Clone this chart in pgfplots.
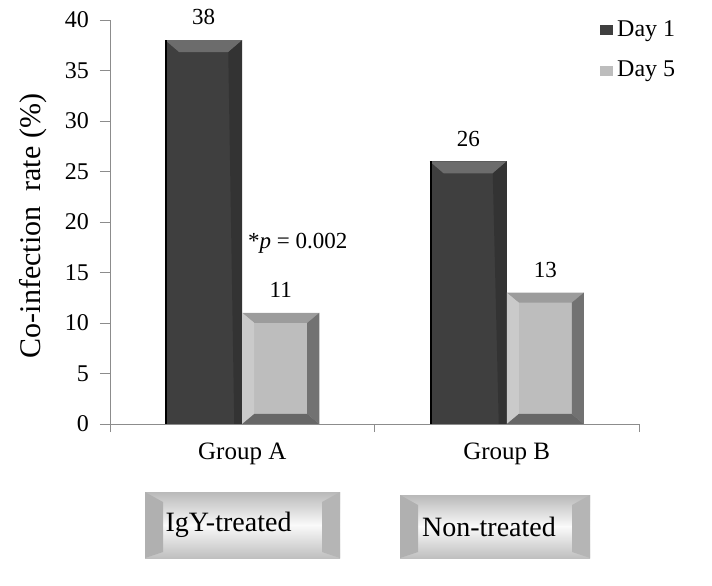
\documentclass[border=0pt]{standalone}
\usepackage{pgfplots}
\pgfplotsset{compat=1.18}
\usepackage{fontspec}
\setmainfont{Liberation Serif}

\definecolor{dk}{HTML}{3F3F3F}
\definecolor{dktop}{HTML}{6C6C6C}
\definecolor{dkside}{HTML}{333333}
\definecolor{lt}{HTML}{BDBDBD}
\definecolor{lttop}{HTML}{9C9C9C}
\definecolor{ltleft}{HTML}{CACACA}
\definecolor{ltdark}{HTML}{727272}
\definecolor{axgray}{HTML}{8C8C8C}

% bevelled bar faces, drawn inside each bar
\tikzset{
  nopp/.style={path picture={}},
  dkbevel/.style={path picture={
    \fill[nopp,dktop] (path picture bounding box.north west) -- (path picture bounding box.north east)
      -- ([xshift=-7bp,yshift=-6bp]path picture bounding box.north east)
      -- ([xshift=7bp,yshift=-6bp]path picture bounding box.north west) -- cycle;
    \fill[nopp,dkside] (path picture bounding box.north east)
      -- ([xshift=-7bp,yshift=-6bp]path picture bounding box.north east)
      -- ([xshift=-4bp]path picture bounding box.south east)
      -- (path picture bounding box.south east) -- cycle;
    \fill[nopp,black] (path picture bounding box.north west) rectangle ([xshift=1bp]path picture bounding box.south west);
  }},
  ltbevel/.style={path picture={
    \fill[nopp,lttop] (path picture bounding box.north west) -- (path picture bounding box.north east)
      -- ([xshift=-6bp,yshift=-5bp]path picture bounding box.north east)
      -- ([xshift=6bp,yshift=-5bp]path picture bounding box.north west) -- cycle;
    \fill[nopp,ltleft] (path picture bounding box.north west)
      -- ([xshift=6bp,yshift=-5bp]path picture bounding box.north west)
      -- ([xshift=6bp,yshift=5bp]path picture bounding box.south west)
      -- (path picture bounding box.south west) -- cycle;
    \fill[nopp,ltdark] (path picture bounding box.north east)
      -- ([xshift=-6bp,yshift=-5bp]path picture bounding box.north east)
      -- ([xshift=-6bp,yshift=5bp]path picture bounding box.south east)
      -- (path picture bounding box.south east) -- cycle;
    \fill[nopp,ltdark!90!black] (path picture bounding box.south west)
      -- ([xshift=6bp,yshift=5bp]path picture bounding box.south west)
      -- ([xshift=-6bp,yshift=5bp]path picture bounding box.south east)
      -- (path picture bounding box.south east) -- cycle;
  }},
  day1/.style={fill=dk, draw=none, dkbevel, bar shift=-19.25bp},
  day5/.style={fill=lt, draw=none, ltbevel, bar shift=19.25bp},
}

\newcommand\tagbox[6]{%
  \shade[nopp,top color=gray!55, bottom color=gray!4] (#1,{(#2+#4)/2}) rectangle (#3,#4);
  \shade[nopp,top color=gray!4, bottom color=gray!50] (#1,#2) rectangle (#3,{(#2+#4)/2});
  \fill[gray!62] (#1,#4) -- (#1+9bp,#4-5bp) -- (#1+9bp,#2+3bp) -- (#1,#2) -- cycle;
  \fill[gray!58] (#3,#4) -- (#3-9bp,#4-5bp) -- (#3-9bp,#2+3bp) -- (#3,#2) -- cycle;
  \node[font=\fontsize{14bp}{16bp}\selectfont] at ({(#1+#3)/2+#6},{(#2+#4)/2}) {#5};
}

\begin{document}
\begin{tikzpicture}
\useasboundingbox (-55bp,-81bp) rectangle (301bp,212bp);
\begin{axis}[
  at={(0,0)}, anchor=south west,
  scale only axis, width=264.5bp, height=202bp,
  xmin=-0.5, xmax=1.5, ymin=0, ymax=40,
  axis x line=bottom, axis y line=left,
  axis line style={-, axgray},
  xtick={0,1}, xticklabels={Group A, Group B},
  minor xtick={-0.5,0.5,1.5},
  major x tick style={draw=none},
  minor tick length=4bp,
  ytick={0,5,...,40},
  major tick length=5bp,
  tick align=outside,
  tick style={axgray},
  x tick label style={font=\fontsize{12.5bp}{14bp}\selectfont, yshift=-1bp},
  y tick label style={font=\fontsize{12bp}{14bp}\selectfont, xshift=-2bp},
  /pgf/number format/assume math mode=true,
  ylabel={Co-infection\ \ rate (\%)},
  every axis y label/.style={at={(axis description cs:-0.145,0.49)}, rotate=90, anchor=center,
    font=\fontsize{15bp}{17bp}\selectfont},
  ybar=0pt, bar width=38.5bp,
  nodes near coords,
  every node near coord/.append style={font=\fontsize{11.5bp}{13bp}\selectfont, yshift=4bp, black},
  legend style={at={(rel axis cs:0.926,1.01)}, anchor=north west, draw=none, fill=none,
    font=\fontsize{12bp}{14bp}\selectfont, row sep=7bp, inner sep=0pt},
  legend cell align=left,
  legend image code/.code={\fill[#1,nopp] (0bp,-2.5bp) rectangle (6.5bp,2.5bp);},
  clip=false,
]
% one plot per bar, so that each bar gets its own bevel
\addplot[day1] coordinates {(0,38)};
\addplot[day5] coordinates {(0,11)};
\addplot[day1, forget plot] coordinates {(1,26)};
\addplot[day5, forget plot] coordinates {(1,13)};
\legend{Day 1, Day 5}
\node[font=\fontsize{11.5bp}{13bp}\selectfont] at (axis cs:0.21,17.9) {*\textit{p} = 0.002};
\end{axis}
\tagbox{17.5bp}{-67bp}{115bp}{-34bp}{IgY-treated}{-7bp}
\tagbox{145bp}{-67bp}{240bp}{-35.5bp}{Non-treated}{-3bp}
\end{tikzpicture}
\end{document}
